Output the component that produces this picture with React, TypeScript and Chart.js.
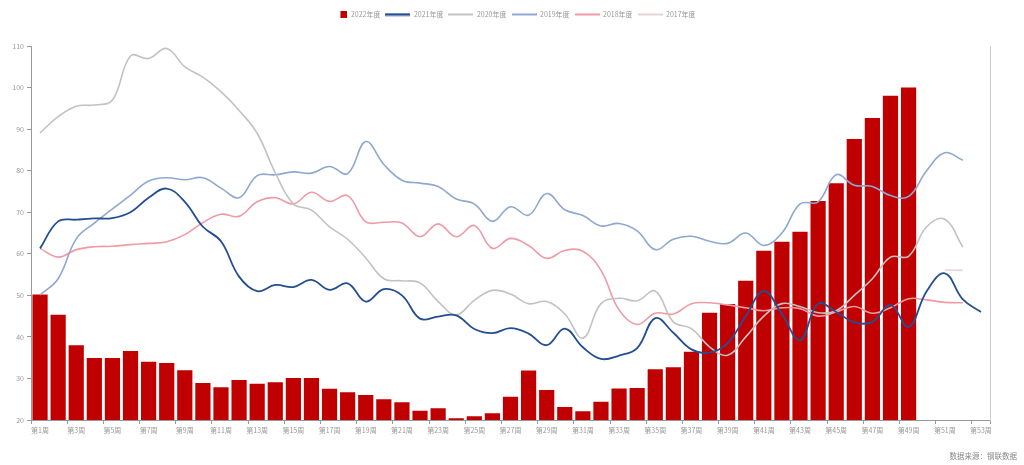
import React, { useEffect, useRef } from "react";
import { Chart, registerables } from "chart.js";

Chart.register(...registerables);

const weeks = [
  "第1周", "第2周", "第3周", "第4周", "第5周", "第6周", "第7周", "第8周", "第9周", "第10周",
  "第11周", "第12周", "第13周", "第14周", "第15周", "第16周", "第17周", "第18周", "第19周", "第20周",
  "第21周", "第22周", "第23周", "第24周", "第25周", "第26周", "第27周", "第28周", "第29周", "第30周",
  "第31周", "第32周", "第33周", "第34周", "第35周", "第36周", "第37周", "第38周", "第39周", "第40周",
  "第41周", "第42周", "第43周", "第44周", "第45周", "第46周", "第47周", "第48周", "第49周", "第50周",
  "第51周", "第52周", "第53周",
];

const seriesNames = ["2022年度", "2021年度", "2020年度", "2019年度", "2018年度", "2017年度"];

const y2022 = [
  50.2, 45.3, 38.0, 34.9, 34.9, 36.6, 34.0, 33.7, 32.0, 28.9,
  27.9, 29.6, 28.7, 29.1, 30.1, 30.1, 27.5, 26.7, 26.0, 25.0,
  24.3, 22.2, 22.8, 20.4, 20.9, 21.6, 25.6, 31.9, 27.2, 23.1,
  22.1, 24.4, 27.6, 27.7, 32.2, 32.7, 36.4, 45.8, 47.9, 53.5,
  60.7, 62.9, 65.3, 72.7, 77.0, 87.6, 92.7, 98.0, 100.0, null,
  null, null, null,
];

const y2021 = [
  61.3, 67.8, 68.2, 68.5, 68.6, 70.0, 73.5, 75.7, 72.5, 66.5,
  63.0, 54.5, 51.0, 52.5, 52.0, 53.7, 51.3, 52.9, 48.5, 51.5,
  50.0, 44.4, 44.9, 45.2, 41.9, 40.9, 42.1, 40.8, 38.0, 42.0,
  37.5, 34.7, 35.5, 37.3, 44.5, 41.0, 37.0, 36.2, 38.5, 45.0,
  51.0, 45.5, 39.2, 48.0, 46.0, 43.5, 43.6, 47.7, 42.4, 51.0,
  55.3, 49.0, 46.0,
];

const y2020 = [
  89.1, 93.0, 95.5, 95.8, 97.0, 107.6, 107.0, 109.4, 105.0, 102.5,
  99.0, 94.5, 89.0, 79.5, 72.0, 70.5, 66.5, 63.5, 59.0, 54.0,
  53.5, 53.0, 48.5, 45.3, 48.8, 51.2, 50.3, 48.0, 48.5, 45.5,
  39.7, 48.0, 49.3, 48.7, 51.0, 43.6, 42.0, 37.6, 35.6, 40.0,
  45.0, 48.0, 47.3, 45.8, 46.3, 50.0, 54.0, 59.2, 59.4, 66.5,
  68.3, 61.6, null,
];

const y2019 = [
  50.1, 54.0, 63.6, 67.4, 70.8, 74.1, 77.5, 78.3, 77.8, 78.3,
  75.8, 73.5, 78.8, 79.0, 79.7, 79.4, 81.0, 79.3, 87.0, 81.5,
  77.7, 77.0, 76.2, 73.2, 72.0, 67.8, 71.3, 69.3, 74.5, 70.6,
  69.2, 66.7, 67.3, 65.5, 61.0, 63.5, 64.2, 63.0, 62.5, 65.0,
  62.0, 65.0, 72.0, 72.5, 79.0, 76.5, 76.2, 74.0, 73.8, 80.0,
  84.3, 82.5, null,
];

const y2018 = [
  61.3, 59.2, 61.0, 61.7, 61.8, 62.2, 62.5, 62.9, 64.6, 67.5,
  69.5, 69.0, 72.5, 73.5, 72.0, 74.8, 72.6, 74.0, 67.7, 67.6,
  67.4, 64.1, 67.2, 64.1, 66.8, 61.3, 63.7, 62.0, 58.9, 60.8,
  60.6, 56.0, 46.5, 43.0, 45.7, 45.5, 48.0, 48.2, 47.7, 47.0,
  46.3, 47.0, 46.8, 45.0, 46.0, 47.3, 45.7, 47.0, 49.2, 48.9,
  48.3, 48.2, null,
];

const y2017 = [
  null, null, null, null, null, null, null, null, null, null,
  null, null, null, null, null, null, null, null, null, null,
  null, null, null, null, null, null, null, null, null, null,
  null, null, null, null, null, null, null, null, null, null,
  null, null, null, null, null, null, null, null, null, null,
  56.1, 56.0, null,
];

const yTicks = [20, 30, 40, 50, 60, 70, 80, 90, 100, 110];

const colors = ["#c00000", "#234e91", "#c2c2c2", "#8fa8d2", "#f09aa5", "#e6d3d7"];
const FONT = "'Noto Sans CJK SC', 'Noto Sans', sans-serif";

function lineIcon(color: string, lw: number) {
  const c = document.createElement("canvas");
  c.width = 25;
  c.height = 4;
  const g = c.getContext("2d")!;
  g.strokeStyle = color;
  g.lineWidth = lw;
  g.beginPath();
  g.moveTo(0, 2);
  g.lineTo(25, 2);
  g.stroke();
  return c;
}

function squareIcon(color: string) {
  const c = document.createElement("canvas");
  c.width = 25;
  c.height = 7;
  const g = c.getContext("2d")!;
  g.fillStyle = color;
  g.fillRect(18, 0, 7, 7);
  return c;
}

export default function App() {
  const ref = useRef<HTMLCanvasElement | null>(null);

  useEffect(() => {
    if (!ref.current) return;
    const icons = [
      squareIcon(colors[0]),
      lineIcon(colors[1], 2.5),
      lineIcon(colors[2], 2),
      lineIcon(colors[3], 2),
      lineIcon(colors[4], 2),
      lineIcon(colors[5], 2),
    ];
    const lineSeries = [y2021, y2020, y2019, y2018, y2017];

    const fixLegend = {
      id: "fixLegend",
      beforeInit(chart: any) {
        const lg = chart.legend;
        if (lg) {
          const origFit = lg.fit;
          lg.fit = function () {
            origFit.call(this);
            this.height = 40;
          };
          const origDraw = lg.draw;
          lg.draw = function () {
            const ctx = this.ctx;
            ctx.save();
            ctx.translate(14, 0);
            origDraw.call(this);
            ctx.restore();
          };
        }
      },
    };

    const sourceText = {
      id: "sourceText",
      afterDraw(chart: any) {
        const ctx = chart.ctx;
        ctx.save();
        ctx.font = `7.5px ${FONT}`;
        ctx.fillStyle = "#888";
        ctx.textAlign = "right";
        ctx.textBaseline = "middle";
        ctx.fillText("数据来源：钢联数据", 1017, 456);
        ctx.restore();
      },
    };

    const chart = new Chart(ref.current, {
      type: "bar",
      data: {
        labels: weeks,
        datasets: [
          {
            type: "bar",
            label: seriesNames[0],
            data: y2022,
            backgroundColor: colors[0],
            borderWidth: 0,
            categoryPercentage: 1,
            barPercentage: 0.84,
            order: 1,
            yAxisID: "y",
          } as any,
          ...lineSeries.map((d, i) => ({
            type: "line",
            label: seriesNames[i + 1],
            data: d,
            borderColor: colors[i + 1],
            backgroundColor: colors[i + 1],
            borderWidth: i === 0 ? 1.8 : 1.6,
            pointRadius: 0,
            pointHoverRadius: 0,
            tension: 0.4,
            spanGaps: false,
            fill: false,
            order: 0,
            yAxisID: "y",
          })) as any,
        ],
      },
      options: {
        animation: false,
        responsive: true,
        maintainAspectRatio: false,
        layout: { padding: { top: 6, right: 34, left: 0, bottom: 0 } },
        plugins: {
          tooltip: { enabled: false },
          legend: {
            position: "top",
            align: "center",
            labels: {
              usePointStyle: true,
              pointStyleWidth: 25,
              boxHeight: 7,
              padding: 5,
              color: "#999",
              font: { size: 7, family: FONT },
              sort: (a: any, b: any) => a.datasetIndex - b.datasetIndex,
              generateLabels: (ch: any) => {
                const items = (Chart.defaults.plugins.legend.labels as any).generateLabels(ch);
                items.forEach((it: any) => {
                  it.pointStyle = icons[it.datasetIndex];
                });
                return items;
              },
            },
          },
        },
        scales: {
          x: {
            type: "category",
            offset: true,
            grid: {
              display: true,
              offset: true,
              drawOnChartArea: false,
              drawTicks: true,
              tickLength: 4,
              tickColor: (c: any) =>
                c.type !== "tick" || c.index % 2 === 0 ? "#999" : "rgba(0,0,0,0)",
            },
            border: { display: true, color: "#999", width: 1 },
            ticks: {
              autoSkip: false,
              maxRotation: 0,
              minRotation: 0,
              padding: 2,
              color: "#999",
              font: { size: 7, family: FONT },
              callback: (_v: any, i: number) => (i % 2 === 0 ? weeks[i] : ""),
            },
            afterFit: (s: any) => {
              s.height = 45;
            },
          },
          y: {
            type: "linear",
            position: "left",
            min: yTicks[0],
            max: yTicks[yTicks.length - 1],
            afterBuildTicks: (s: any) => {
              s.ticks = yTicks.map((v) => ({ value: v }));
            },
            grid: {
              display: true,
              drawOnChartArea: false,
              drawTicks: true,
              tickLength: 4,
              tickColor: "#999",
            },
            border: { display: true, color: "#999", width: 1 },
            ticks: {
              padding: 3,
              color: "#999",
              font: { size: 7, family: FONT },
            },
            afterFit: (s: any) => {
              s.width = 31;
            },
          },
          y2: {
            type: "linear",
            position: "right",
            min: yTicks[0],
            max: yTicks[yTicks.length - 1],
            grid: { display: false, drawOnChartArea: false },
            border: { display: true, color: "#ccc", width: 1 },
            ticks: { display: false },
            afterFit: (s: any) => {
              s.width = 0;
            },
          },
        },
      } as any,
      plugins: [fixLegend, sourceText],
    });

    return () => chart.destroy();
  }, []);

  return (
    <div style={{ position: "fixed", left: 0, top: 0, width: 1024, height: 465, background: "#fff" }}>
      <canvas ref={ref} />
    </div>
  );
}
